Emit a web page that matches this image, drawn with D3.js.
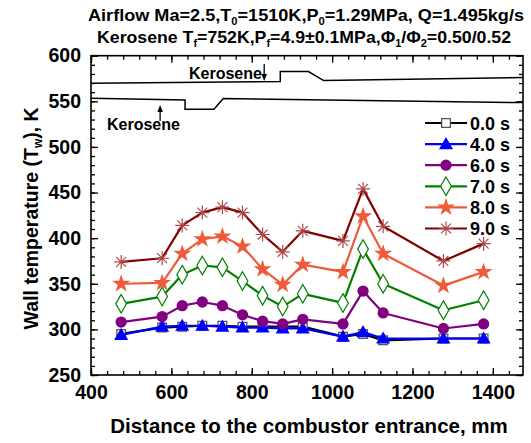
<!DOCTYPE html>
<html>
<head>
<meta charset="utf-8">
<script src="https://cdn.jsdelivr.net/npm/d3@7"></script>
<style>
  html, body { margin: 0; padding: 0; background: #fff; }
  svg { display: block; }
  text { font-family: "Liberation Sans", Arial, sans-serif; font-weight: bold; fill: #000; }
</style>
</head>
<body>
<svg id="chart" width="531" height="443"></svg>
<script>
// Measurement stations along the combustor (mm)
const positions = [475, 577, 627, 677, 727, 777, 827, 877, 927, 1027, 1077, 1127, 1277, 1377];

// Wall temperature (K) at each station, per time after ignition
const series = [
  { name: "0.0 s", values: [295, 302, 303, 304, 304, 303, 303, 303, 303, 292, 295, 288, 290, 290] },
  { name: "4.0 s", values: [294, 303, 304, 304, 303, 302, 302, 301, 301, 292, 297, 290, 290, 290] },
  { name: "6.0 s", values: [308, 314, 326, 330, 326, 316, 309, 306, 311, 306, 342, 318, 301, 306] },
  { name: "7.0 s", values: [328, 336, 360, 370, 368, 353, 337, 325, 339, 329, 388, 350, 321, 332] },
  { name: "8.0 s", values: [350, 351, 383, 399, 402, 391, 366, 349, 371, 363, 424, 383, 348, 363] },
  { name: "9.0 s", values: [374, 378, 414, 428, 434, 428, 404, 385, 408, 397, 454, 413, 375, 394] }
];

// Combustor wall contours sketched across the top of the plot
const upperWall = [[400, 569.8], [871, 571.6], [871, 582.6], [941, 582.6], [979, 572.7], [1475, 576]];
const lowerWall = [[400, 553.3], [634, 551.5], [634, 541.3], [706, 541.3], [729, 553], [1475, 548.6]];

// Axis ticks
const xMajor = [400, 600, 800, 1000, 1200, 1400];
const xMinor = d3.range(400, 1476, 40);
const yMajor = [250, 300, 350, 400, 450, 500, 550, 600];
const yMinor = d3.range(250, 601, 10);

const style = {
  "0.0 s": { line: "#000000", marker: "square" },
  "4.0 s": { line: "#0000ff", marker: "triangle" },
  "6.0 s": { line: "#800080", marker: "circle" },
  "7.0 s": { line: "#008000", marker: "diamond" },
  "8.0 s": { line: "#ef5a3a", marker: "star" },
  "9.0 s": { line: "#800000", marker: "asterisk" }
};

const svg = d3.select("#chart");
const L = 91, R = 523, T = 55.7, B = 375;

const x = d3.scaleLinear().domain([400, 1475]).range([L, R]);
const y = d3.scaleLinear().domain([250, 600]).range([B, T]);

// Axes: inward ticks on all four sides
function addAxis(axisFn, scale, transform, major, minor, labels) {
  const gMinor = svg.append("g").attr("transform", transform)
    .call(axisFn(scale).tickValues(minor).tickSize(-4).tickFormat(""));
  gMinor.select(".domain").remove();
  const g = svg.append("g").attr("transform", transform)
    .call(axisFn(scale).tickValues(major).tickSize(-7).tickPadding(labels ? 10 : 0)
      .tickFormat(labels ? d3.format("d") : ""));
  g.select(".domain").remove();
  g.selectAll("text").style("font-size", "19.5px").style("font-weight", "bold");
  [gMinor, g].forEach(gg => gg.selectAll("line").attr("stroke", "#000").attr("stroke-width", 1.3));
}
addAxis(d3.axisBottom, x, `translate(0,${B})`, xMajor, xMinor, true);
addAxis(d3.axisTop, x, `translate(0,${T})`, xMajor, xMinor, false);
addAxis(d3.axisLeft, y, `translate(${L},0)`, yMajor, yMinor, true);
addAxis(d3.axisRight, y, `translate(${R},0)`, yMajor, yMinor, false);

svg.append("rect").attr("x", L).attr("y", T).attr("width", R - L).attr("height", B - T)
  .attr("fill", "none").attr("stroke", "#000").attr("stroke-width", 1.6);

// Wall contours
const wallLine = d3.line().x(d => x(d[0])).y(d => y(d[1]));
[upperWall, lowerWall].forEach(w => {
  svg.append("path").attr("d", wallLine(w)).attr("fill", "none")
    .attr("stroke", "#000").attr("stroke-width", 1.5);
});

// Kerosene injection labels and arrows
function arrow(x0, y0, y1) {
  const dir = y1 > y0 ? 1 : -1;
  svg.append("line").attr("x1", x0).attr("x2", x0).attr("y1", y0).attr("y2", y1 - dir * 4)
    .attr("stroke", "#000").attr("stroke-width", 1.3);
  svg.append("path")
    .attr("d", `M${x0},${y1} L${x0 - 2.8},${y1 - dir * 7} L${x0 + 2.8},${y1 - dir * 7} Z`)
    .attr("fill", "#000");
}
svg.append("text").attr("x", 189).attr("y", 79).style("font-size", "16px").text("Kerosene");
arrow(x(831), 64, 81);
svg.append("text").attr("x", 107).attr("y", 129.5).style("font-size", "16px").text("Kerosene");
arrow(x(572), 121, 105);

// Marker shapes
const sym = {
  square: d3.symbol().type(d3.symbolSquare).size(75),
  triangle: d3.symbol().type(d3.symbolTriangle).size(85),
  circle: d3.symbol().type(d3.symbolCircle).size(100),
  diamond: d3.symbol().type(d3.symbolDiamond).size(100),
  star: d3.symbol().type(d3.symbolStar).size(100)
};
function drawMarker(g, kind, cx, cy, color) {
  if (kind === "asterisk") {
    const r = 7;
    const p = [];
    for (let k = 0; k < 4; k++) {
      const a = k * Math.PI / 4;
      p.push(`M${cx - r * Math.cos(a)},${cy - r * Math.sin(a)}L${cx + r * Math.cos(a)},${cy + r * Math.sin(a)}`);
    }
    g.append("path").attr("d", p.join("")).attr("stroke", "#b04848").attr("stroke-width", 1.2).attr("fill", "none");
    return;
  }
  const m = g.append("path").attr("d", sym[kind]()).attr("transform", `translate(${cx},${cy})`);
  if (kind === "square") m.attr("fill", "#fff").attr("stroke", "#555").attr("stroke-width", 1.3);
  else if (kind === "diamond") m.attr("fill", "#fff").attr("stroke", color).attr("stroke-width", 1.2);
  else if (kind === "triangle") m.attr("fill", color).attr("transform", `translate(${cx},${cy + 1})`);
  else m.attr("fill", color);
}

// Temperature curves
const line = d3.line().x((d, i) => x(positions[i])).y(d => y(d));
series.forEach(s => {
  const st = style[s.name];
  const g = svg.append("g");
  g.append("path").attr("d", line(s.values)).attr("fill", "none")
    .attr("stroke", st.line).attr("stroke-width", 2.2).attr("stroke-linejoin", "round");
  s.values.forEach((v, i) => drawMarker(g, st.marker, x(positions[i]), y(v), st.line));
});

// Legend
series.forEach((s, i) => {
  const st = style[s.name];
  const ly = 123 + i * 21.1;
  const g = svg.append("g");
  g.append("line").attr("x1", 425).attr("x2", 467).attr("y1", ly).attr("y2", ly)
    .attr("stroke", st.line).attr("stroke-width", 2.2);
  drawMarker(g, st.marker, 446, ly, st.line);
  g.append("text").attr("x", 470).attr("y", ly + 6.5).style("font-size", "18px").text(s.name);
});

// Title lines with subscripts
function richText(parts, cx, cy, size, width) {
  const t = svg.append("text").attr("x", cx).attr("y", cy).attr("text-anchor", "middle")
    .style("font-size", size + "px");
  let shift = 0;
  parts.forEach(([txt, sub]) => {
    const ts = t.append("tspan").text(txt);
    if (sub && shift === 0) { ts.attr("dy", 4).style("font-size", (size * 0.62) + "px"); shift = 4; }
    else if (!sub && shift) { ts.attr("dy", -4); shift = 0; }
  });
  if (width) t.attr("textLength", width).attr("lengthAdjust", "spacingAndGlyphs");
  return t;
}
richText([["Airflow Ma=2.5,T"], ["0", 1], ["=1510K,P"], ["0", 1], ["=1.29MPa, Q=1.495kg/s"]], 306, 21, 16.5, 436);
richText([["Kerosene T"], ["f", 1], ["=752K,P"], ["f", 1], ["=4.9±0.1MPa,Φ"], ["1", 1], ["/Φ"], ["2", 1], ["=0.50/0.52"]], 304, 43, 16.5, 414);

// Axis titles
svg.append("text").attr("x", 309).attr("y", 433).attr("text-anchor", "middle")
  .style("font-size", "20.5px").text("Distance to the combustor entrance, mm");
const yt = svg.append("text").attr("transform", `translate(38,${(T + B) / 2 + 3}) rotate(-90)`)
  .attr("text-anchor", "middle").style("font-size", "19.5px");
yt.append("tspan").text("Wall temperature (T");
yt.append("tspan").text("w").attr("dy", 4).style("font-size", "12px");
yt.append("tspan").text("), K").attr("dy", -4);
</script>
</body>
</html>
